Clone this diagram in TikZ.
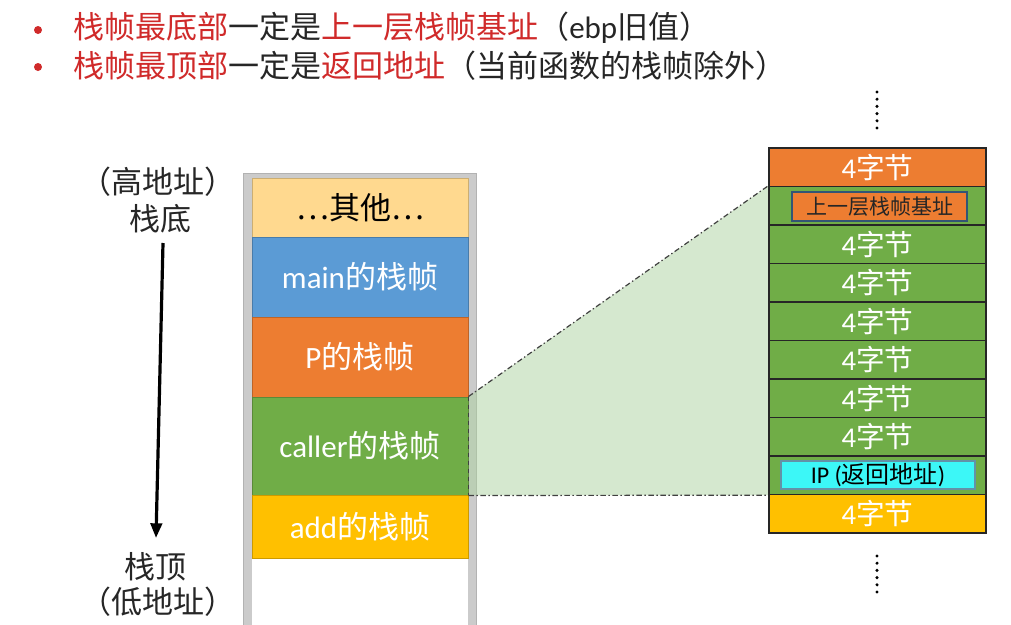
\documentclass[tikz,border=0pt]{standalone}
\usepackage{fontspec}
\setmainfont{Noto Sans CJK SC}
\newfontfamily\lat{Carlito}
\usetikzlibrary{arrows.meta}
\definecolor{hred}{HTML}{D02A2A}
\definecolor{htext}{HTML}{262626}
\definecolor{cOther}{HTML}{FFD98F}
\definecolor{cBlue}{HTML}{5B9BD5}
\definecolor{cOrange}{HTML}{ED7D31}
\definecolor{cGreen}{HTML}{70AD47}
\definecolor{cGold}{HTML}{FFC000}
\definecolor{cCyan}{HTML}{3CF7F7}
\definecolor{frameGray}{HTML}{CBCBCB}
\definecolor{zoomFill}{HTML}{ADD2A0}
\pgfdeclarelayer{bg}
\pgfsetlayers{bg,main}
\tikzset{
  bigfont/.style={font=\fontsize{23.25pt}{28pt}\selectfont},
  head/.style={bigfont, text=htext, inner sep=0pt, anchor=west},
  bulletdot/.style={circle, fill=hred, minimum size=6pt, inner sep=0pt},
  sidelbl/.style={bigfont, text=htext, inner sep=0pt},
  lbox/.style={rectangle, draw=#1!80!black, fill=#1, line width=0.7pt, minimum width=162pt, inner sep=0pt, bigfont, text=white},
  rrow/.style={rectangle, draw=black!85, fill=#1, line width=1.1pt, minimum width=162.75pt, minimum height=28.875pt, inner sep=0pt, font=\fontsize{21.5pt}{26pt}\selectfont, text=white},
  zoomline/.style={draw=black!75, line width=0.9pt, dash pattern=on 4pt off 2pt on 1pt off 2pt},
}
\begin{document}
\begin{tikzpicture}[x=0.75pt,y=-0.75pt]
\useasboundingbox (0,0) rectangle (1011,625);

% header bullets
\node[bulletdot] (b1) at (38,30) {};
\node[bulletdot] (b2) at (38,67) {};
\node[head] (h1) at (73,28) {\textcolor{hred}{栈帧最底部}一定是\textcolor{hred}{上一层栈帧基址}（{\lat ebp}旧值）};
\node[head] (h2) at (73,66) {\textcolor{hred}{栈帧最顶部}一定是\textcolor{hred}{返回地址}（当前函数的栈帧除外）};

% side labels and arrow
\node[sidelbl] (hiaddr) at (158,182) {（高地址）};
\node[sidelbl] (bottom) at (160,219) {栈底};
\node[sidelbl] (top) at (155,567) {栈顶};
\node[sidelbl] (loaddr) at (158,602) {（低地址）};
\coordinate (arrTop) at (163,243);
\coordinate (arrBot) at (156,538);
\draw[line width=2.4pt, -{Triangle[length=11pt,width=8.5pt]}] (arrTop) -- (arrBot);

% left stack boxes
\node[lbox=cOther, text=black, minimum height=44.25pt] (other) at (360,207.5) {…其他…};
\node[lbox=cBlue, minimum height=60pt] (main) at (360,277) {{\lat main}的栈帧};
\node[lbox=cOrange, minimum height=60pt] (pf) at (360,357) {{\lat P}的栈帧};
\node[lbox=cGreen, minimum height=73.5pt] (caller) at (360,446) {{\lat caller}的栈帧};
\node[lbox=cGold, minimum height=47.25pt] (add) at (360,526.5) {{\lat add}的栈帧};

% right stack
\node[rrow=cOrange] (r1) at (877.5,167.25) {{\lat 4}字节};
\node[rrow=cGreen] (r2) at (877.5,205.75) {};
\node[rrow=cGreen] (r3) at (877.5,244.25) {{\lat 4}字节};
\node[rrow=cGreen] (r4) at (877.5,282.75) {{\lat 4}字节};
\node[rrow=cGreen] (r5) at (877.5,321.25) {{\lat 4}字节};
\node[rrow=cGreen] (r6) at (877.5,359.75) {{\lat 4}字节};
\node[rrow=cGreen] (r7) at (877.5,398.25) {{\lat 4}字节};
\node[rrow=cGreen] (r8) at (877.5,436.75) {{\lat 4}字节};
\node[rrow=cGreen] (r9) at (877.5,475.25) {};
\node[rrow=cGold] (r10) at (877.5,513.75) {{\lat 4}字节};

\node[rectangle, fill=cOrange, draw=black!45!cBlue, line width=1pt, minimum width=131.25pt, minimum height=21.75pt, inner sep=0pt, text=htext, font=\fontsize{15.75pt}{19pt}\selectfont] (oldebp) at (879.5,206.5) {上一层栈帧基址};
\node[rectangle, fill=cCyan, draw=black!30!cyan!60!gray, line width=1pt, minimum width=145.5pt, minimum height=21pt, inner sep=0pt, text=black, font=\fontsize{18pt}{22pt}\selectfont] (retip) at (878,475) {{\lat IP (}返回地址{\lat )}};

% dots
\foreach \i in {0,...,5} {
  \fill[black] (877,92+7.2*\i) circle (1.7);
  \fill[black] (877,556+7.2*\i) circle (1.7);
}

% zoom lines
\draw[zoomline] (caller.north east) -- (r2.north west);
\draw[zoomline] (caller.south east) -- (r9.south west);
\draw[draw=black!75, line width=0.9pt, dashed] (caller.north east) -- (caller.south east);

\begin{pgfonlayer}{bg}
  \fill[white] (0,0) rectangle (1011,625);
  \fill[frameGray, draw=black!30] (243,173) rectangle (476,626);
  \fill[white] (252,178) rectangle (468,626);
  \fill[zoomFill, fill opacity=0.5] (caller.north east) -- (r2.north west) -- (r9.south west) -- (caller.south east) -- cycle;
\end{pgfonlayer}
\end{tikzpicture}
\end{document}
